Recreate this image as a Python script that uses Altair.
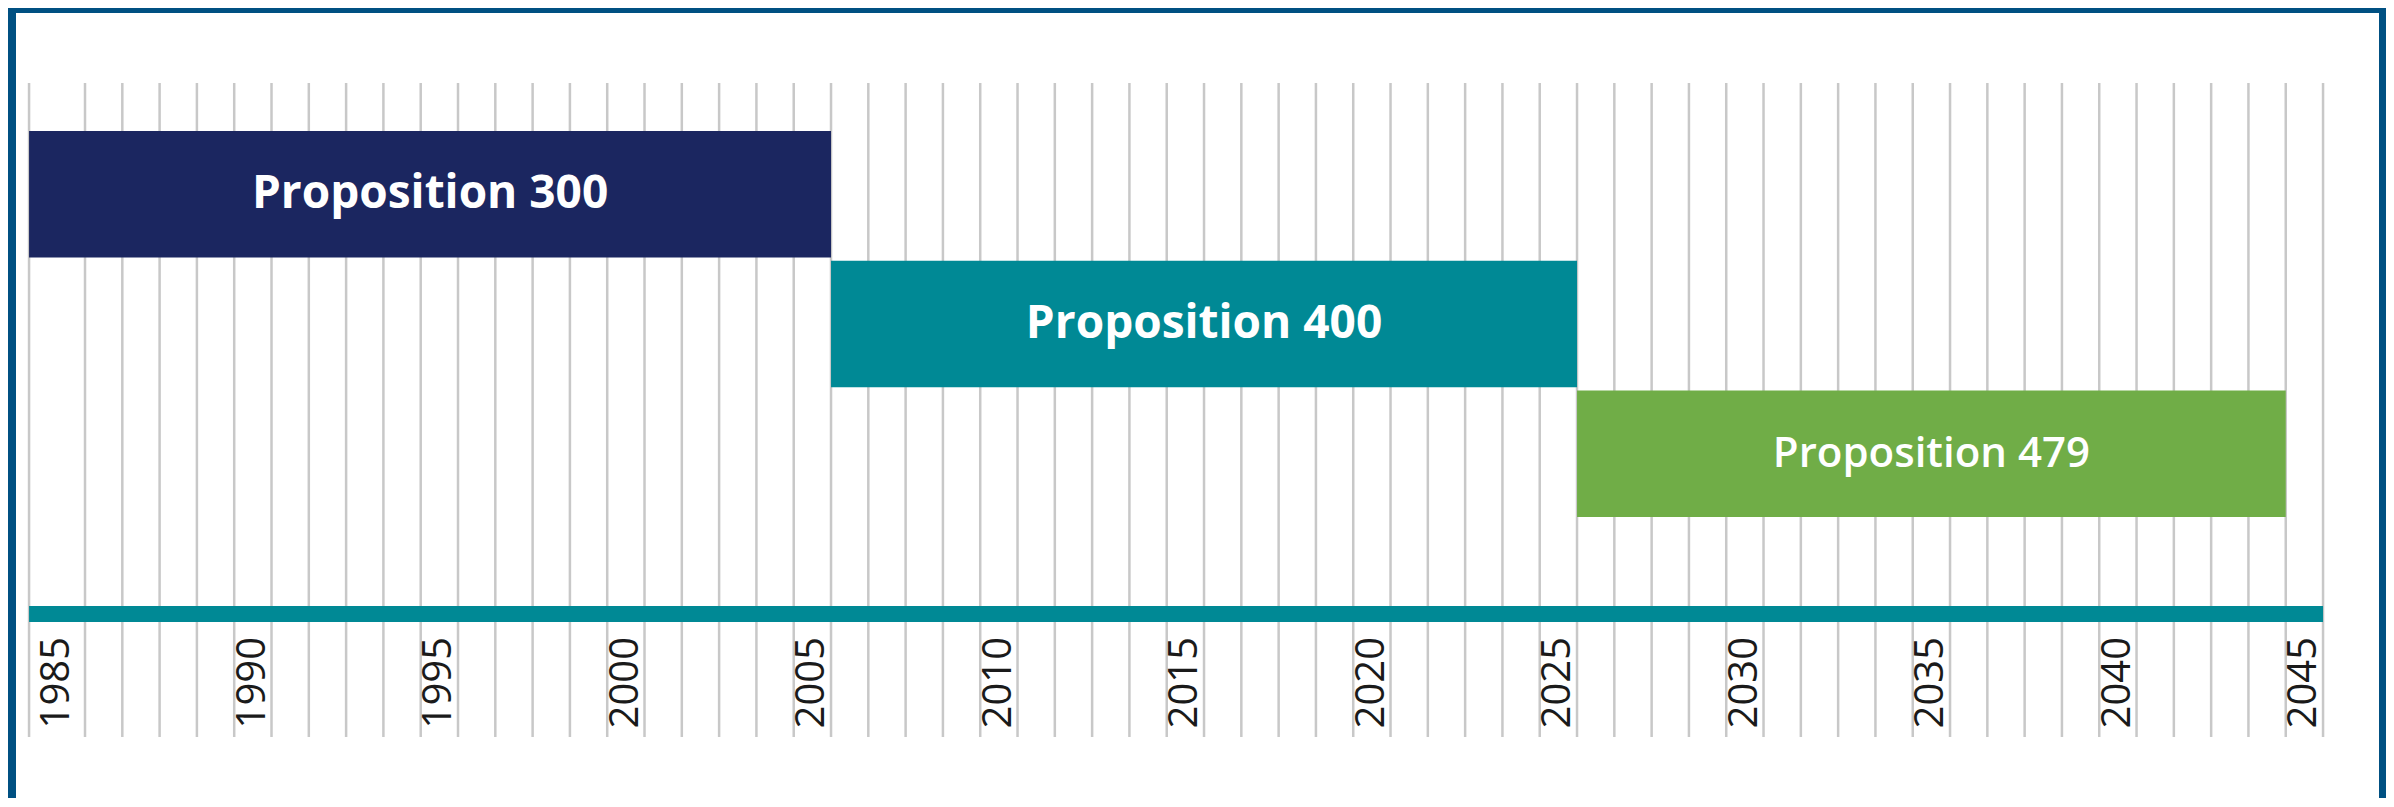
import altair as alt
import pandas as pd

# ---------------- data ----------------
years = list(range(1985, 2046))
label_years = [1985, 1990, 1995, 2000, 2005, 2010, 2015, 2020, 2025, 2030, 2035, 2040, 2045]
timeline_start = 1984.0
propositions = ["Proposition 300", "Proposition 400", "Proposition 479"]
start_years = [1985, 2006, 2026]
end_years = [2005, 2025, 2044]

# ---------------- styles ----------------
bar_colors = ["#1b2660", "#008995", "#70ad47"]
axis_color = "#008995"
grid_color = "#c8c8c8"
frame_color = "#005082"

# band edges for every year (first band starts at the timeline start)
edges = [timeline_start] + [y + 0.5 for y in years]
lower = {y: edges[i] for i, y in enumerate(years)}
upper = {y: edges[i + 1] for i, y in enumerate(years)}

grid_df = pd.DataFrame({"edge": edges})
label_df = pd.DataFrame({
    "label": [str(y) for y in label_years],
    "pos": [(lower[y] + upper[y]) / 2 for y in label_years],
})
bar_df = pd.DataFrame({
    "name": propositions,
    "x0": [lower[s] for s in start_years],
    "x1": [upper[e] for e in end_years],
})
axis_df = pd.DataFrame({"x0": [edges[0]], "x1": [edges[-1]]})

xscale = alt.Scale(domain=[1983.65, 2047.0], nice=False, zero=False)
yscale = alt.Scale(domain=propositions, range=[118, 504], paddingInner=0.025, paddingOuter=0)

grid = alt.Chart(grid_df).mark_rule(color=grid_color, strokeWidth=2.5).encode(
    x=alt.X("edge:Q", scale=xscale, axis=None),
    y=alt.value(70),
    y2=alt.value(724),
)

bars = alt.Chart(bar_df).mark_rect().encode(
    x=alt.X("x0:Q", scale=xscale, axis=None),
    x2="x1:Q",
    y=alt.Y("name:N", scale=yscale, axis=None),
    color=alt.Color("name:N", scale=alt.Scale(domain=propositions, range=bar_colors), legend=None),
)

text_base = alt.Chart(bar_df).transform_calculate(mid="(datum.x0 + datum.x1) / 2")

bar_text_big = text_base.transform_filter(
    alt.FieldOneOfPredicate(field="name", oneOf=propositions[:2])
).mark_text(font="Open Sans", fontWeight="bold", fontSize=46, color="white", baseline="middle").encode(
    x=alt.X("mid:Q", scale=xscale, axis=None),
    y=alt.Y("name:N", scale=yscale, axis=None),
    text="name:N",
)

bar_text_small = text_base.transform_filter(
    alt.FieldOneOfPredicate(field="name", oneOf=propositions[2:])
).mark_text(font="Open Sans", fontWeight=600, fontSize=42, color="white", baseline="middle").encode(
    x=alt.X("mid:Q", scale=xscale, axis=None),
    y=alt.Y("name:N", scale=yscale, axis=None),
    text="name:N",
)

axis_bar = alt.Chart(axis_df).mark_rect(color=axis_color).encode(
    x=alt.X("x0:Q", scale=xscale, axis=None),
    x2="x1:Q",
    y=alt.value(593),
    y2=alt.value(609),
)

year_labels = alt.Chart(label_df).mark_text(
    angle=270, align="right", baseline="middle", fontSize=40, font="Open Sans", color="#1a1a1a"
).encode(
    x=alt.X("pos:Q", scale=xscale, axis=None),
    y=alt.value(624),
    text="label:N",
)

chart = alt.layer(grid, bars, bar_text_big, bar_text_small, axis_bar, year_labels).properties(
    width=2363,
    height=785,
    autosize=alt.AutoSizeParams(type="none"),
    padding={"left": 8, "top": 5, "right": 7, "bottom": 0},
    background=frame_color,
).configure_view(fill="white", strokeWidth=0)

chart.save("out.html", embed_options={"renderer": "svg", "actions": False})
